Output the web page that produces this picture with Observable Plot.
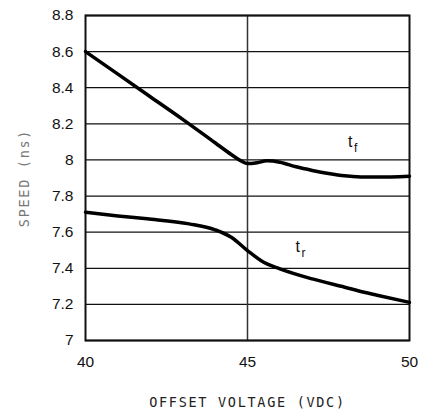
<!DOCTYPE html>
<html><head><meta charset="utf-8">
<script src="https://cdn.jsdelivr.net/npm/d3@7"></script>
<script src="https://cdn.jsdelivr.net/npm/@observablehq/plot@0.6"></script>
<style>
body{margin:0;background:#fff;}
g[aria-label="x-axis label"] text, g[aria-label="y-axis label"] text {font-family:"DejaVu Sans Mono"; font-size:13.5px; letter-spacing:1.7px; fill:#222;}
g[aria-label="y-axis label"] text {fill:#777;}
</style></head><body><div id="chart"></div>
<script>
// t_f curve (fall time)
const voltageTf = [40, 41, 42, 43, 44, 44.5, 44.8, 45, 45.3, 45.6, 46, 46.5, 47, 47.5, 48, 48.5, 49, 50];
const speedTf   = [8.6, 8.475, 8.35, 8.225, 8.095, 8.03, 7.995, 7.98, 7.985, 7.995, 7.987, 7.962, 7.942, 7.925, 7.912, 7.906, 7.905, 7.91];
// t_r curve (rise time)
const voltageTr = [40, 41, 41.9, 43.2, 44, 44.5, 45, 45.5, 46, 47, 48, 48.6, 49, 50];
const speedTr   = [7.71, 7.69, 7.674, 7.646, 7.613, 7.572, 7.498, 7.433, 7.397, 7.341, 7.295, 7.267, 7.251, 7.211];
// ticks
const xTicks = [40, 45, 50];
const yTicks = [7, 7.2, 7.4, 7.6, 7.8, 8, 8.2, 8.4, 8.6, 8.8];
const xGrid = [45];
// curve labels
const labelSub = ["f", "r"];
const labelX = [48.1, 46.48];
const labelY = [8.07, 7.49];

const tf = voltageTf.map((v, i) => ({x: v, y: speedTf[i]}));
const tr = voltageTr.map((v, i) => ({x: v, y: speedTr[i]}));
const labels = labelSub.map((s, i) => ({sub: s, x: labelX[i], y: labelY[i]}));

const chart = Plot.plot({
  width: 422, height: 414,
  marginLeft: 85, marginRight: 13, marginTop: 15, marginBottom: 74,
  style: {fontFamily: "Liberation Sans", fontSize: "15.5px", color: "#111", background: "#fff"},
  x: {domain: [40, 50]},
  y: {domain: [7, 8.8]},
  marks: [
    Plot.ruleY(yTicks, {stroke: "#111", strokeWidth: 1.3}),
    Plot.ruleX(xGrid, {stroke: "#333", strokeWidth: 1.5}),
    Plot.frame({stroke: "#111", strokeWidth: 2}),
    Plot.line(tf, {x: "x", y: "y", curve: "monotone-x", stroke: "#000", strokeWidth: 3.5}),
    Plot.line(tr, {x: "x", y: "y", curve: "monotone-x", stroke: "#000", strokeWidth: 3.5}),
    Plot.text(labels, {x: "x", y: "y", text: () => "t", textAnchor: "start", lineAnchor: "bottom", fontSize: 16, fill: "#111"}),
    Plot.text(labels, {x: "x", y: "y", text: "sub", textAnchor: "start", lineAnchor: "bottom", dx: 6, dy: 5, fontSize: 12, fill: "#111"}),
    Plot.axisY(yTicks, {tickSize: 0, tickPadding: 12, tickFormat: d => String(+d.toFixed(1)), label: "SPEED (ns)", labelArrow: "none", labelAnchor: "center", labelOffset: 66}),
    Plot.axisX(xTicks, {tickSize: 0, tickPadding: 15, label: "OFFSET VOLTAGE (VDC)", labelArrow: "none", labelAnchor: "center", labelOffset: 66})
  ]
});
document.getElementById("chart").appendChild(chart);
</script></body></html>
